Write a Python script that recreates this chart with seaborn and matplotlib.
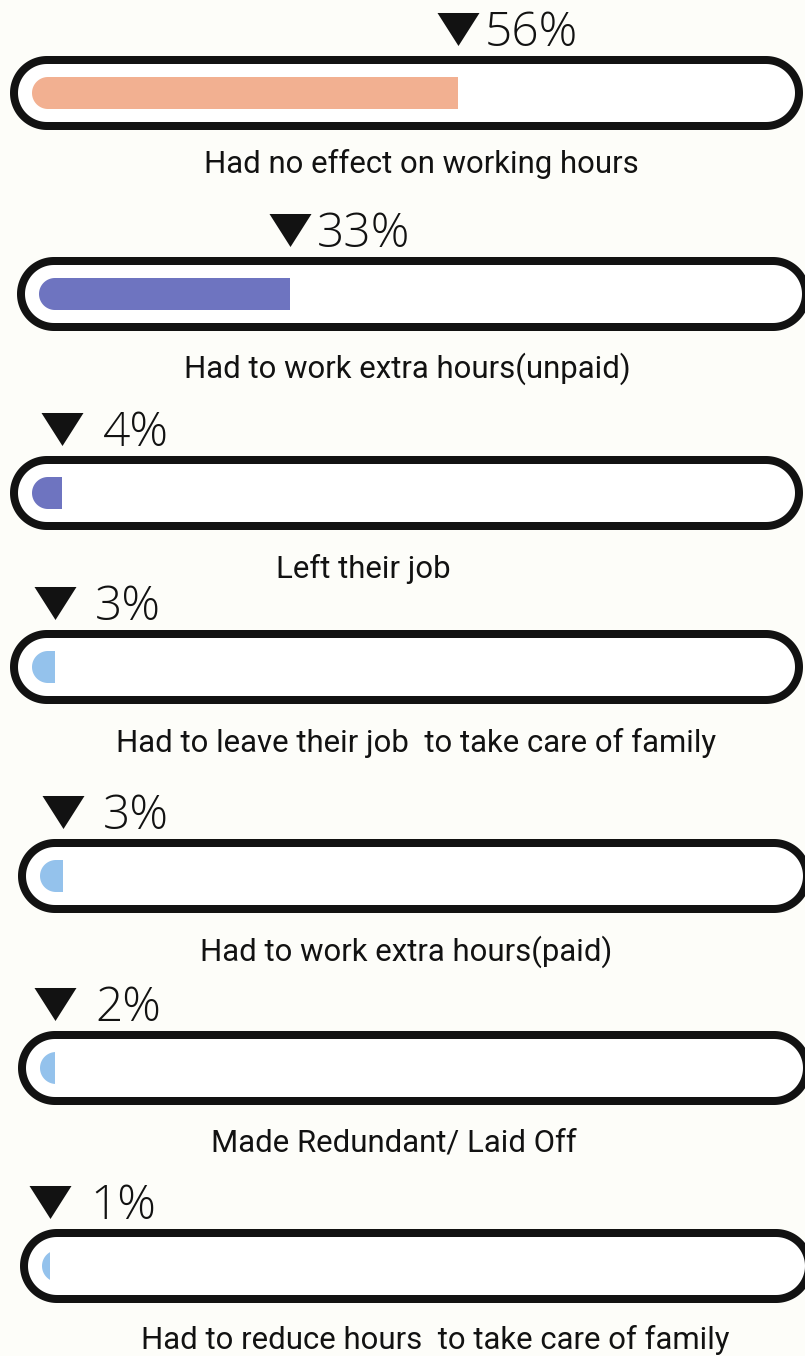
import matplotlib
matplotlib.use("Agg")
import numpy as np
import matplotlib.pyplot as plt
import seaborn as sns
import pandas as pd
from matplotlib.patches import Polygon

# ---- data -------------------------------------------------------------
categories = [
    "Had no effect on working hours",
    "Had to work extra hours(unpaid)",
    "Left their job",
    "Had to leave their job  to take care of family",
    "Had to work extra hours(paid)",
    "Made Redundant/ Laid Off",
    "Had to reduce hours  to take care of family",
]
shares = [56, 33, 4, 3, 3, 2, 1]
bar_colors = ["#F2B091", "#6E74C0", "#6E74C0", "#94C2EC",
              "#94C2EC", "#94C2EC", "#94C2EC"]

# ---- layout (pixels) --------------------------------------------------
W, H, DPI = 805, 1356, 100
PX_PER_PCT = 7.6                 # horizontal scale of the progress bars
U = 1.0 / PX_PER_PCT             # data units per pixel (equal aspect)

track_left = [10, 17, 10, 10, 18, 18, 20]          # outer left edge of capsule
track_top = [56, 257, 456, 630, 839, 1031, 1229]   # outer top edge of capsule
caption_x = [421, 407, 363, 416, 406, 394, 435]    # caption centre
caption_base = [173, 378, 578, 752, 961, 1152, 1349]  # caption baseline

TRACK_W, TRACK_H, STROKE = 793, 74, 8
INSET, BAR_H = 22, 32
BAND_ABOVE, BAND_BELOW = 90, 80

BG = "#FDFDF9"
INK = "#121212"

sns.set_theme(style="white")
plt.rcParams["font.family"] = ["Roboto", "DejaVu Sans"]


def capsule(x0, y0, w, h, **kw):
    """Stadium shape (rectangle with semicircular ends) in data units."""
    r = h / 2
    t = np.linspace(np.pi / 2, 3 * np.pi / 2, 64)
    left = np.column_stack([x0 + r + r * np.cos(t), y0 + r + r * np.sin(t)])
    t = np.linspace(-np.pi / 2, np.pi / 2, 64)
    right = np.column_stack([x0 + w - r + r * np.cos(t), y0 + r + r * np.sin(t)])
    return Polygon(np.vstack([left, right]), closed=True, **kw)


fig = plt.figure(figsize=(W / DPI, H / DPI), dpi=DPI, facecolor=BG)

tri_verts = [(-1.0, 0.786), (1.0, 0.786), (0.0, -0.786)]

for i, (cat, val, col) in enumerate(zip(categories, shares, bar_colors)):
    band_top = track_top[i] - BAND_ABOVE
    band_h = BAND_ABOVE + TRACK_H + BAND_BELOW
    ax = fig.add_axes([0, 1 - (band_top + band_h) / H, 1, band_h / H])
    ax.patch.set_alpha(0)

    bar_x0 = track_left[i] + INSET
    centre_px = track_top[i] + TRACK_H / 2

    df = pd.DataFrame({"category": [cat], "share": [val]})
    sns.barplot(data=df, x="share", y="category", orient="h", color=col,
                saturation=1, width=BAR_H * U, errorbar=None, linewidth=0,
                ax=ax, zorder=3)
    bars = list(ax.patches)

    ax.set_xlim(-bar_x0 * U, (W - bar_x0) * U)
    ax.set_ylim(-(band_top + band_h - centre_px) * U, (centre_px - band_top) * U)
    ax.set_axis_off()

    # capsule outline
    cw = (TRACK_W - STROKE) * U
    ch = (TRACK_H - STROKE) * U
    ax.add_patch(capsule((-INSET + STROKE / 2) * U, -ch / 2, cw, ch,
                         facecolor="white", edgecolor=INK,
                         linewidth=STROKE * 72 / DPI, zorder=2))

    # rounded left end of the bar
    track_clip = capsule(0, -BAR_H * U / 2, 100, BAR_H * U,
                         transform=ax.transData)
    for b in bars:
        b.set_clip_path(track_clip)

    # marker and value label
    tri_y = (TRACK_H / 2 + 27) * U
    ax.plot([val], [tri_y], linestyle="none", marker=tri_verts,
            markersize=42 * 72 / DPI, color=INK, markeredgewidth=0,
            zorder=4, clip_on=False)
    ax.annotate(f"{val}%", xy=(val, (TRACK_H / 2 + 10) * U),
                xytext=(73.5, 0), textcoords="offset pixels",
                ha="center", va="baseline", fontsize=34.5,
                fontfamily=["Open Sans", "DejaVu Sans"], fontweight="light",
                color=INK, zorder=4)

    # caption
    ax.text((caption_x[i] - bar_x0) * U, -(caption_base[i] - centre_px) * U,
            cat, ha="center", va="baseline", fontsize=22.4, color=INK,
            zorder=4)

fig.savefig("out.png", dpi=DPI, facecolor=BG)
